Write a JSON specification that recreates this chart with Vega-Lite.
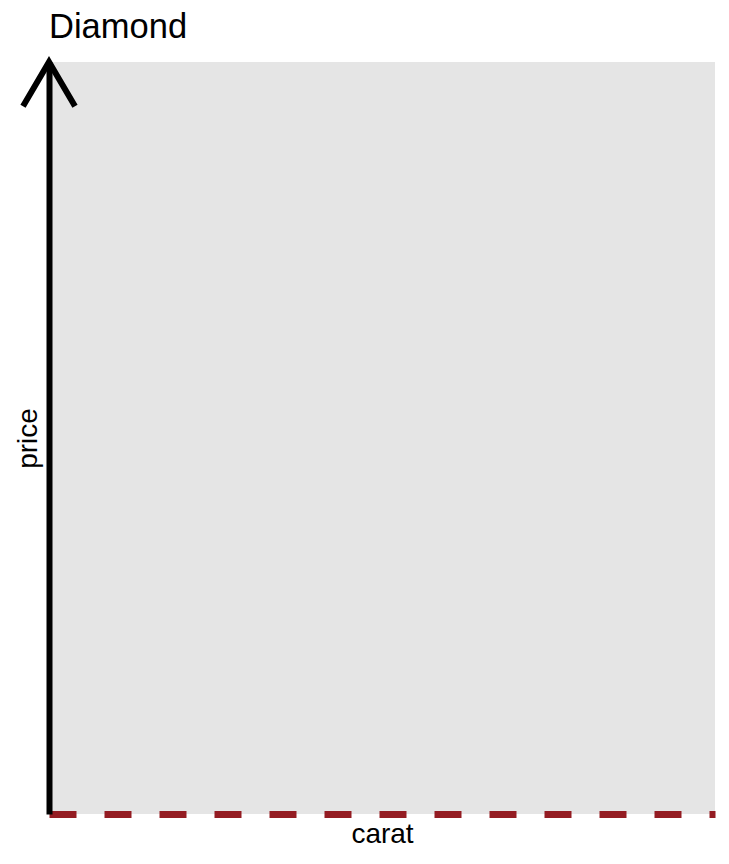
{
  "$schema": "https://vega.github.io/schema/vega-lite/v6.json",
  "width": 666,
  "height": 752,
  "autosize": {"type": "none"},
  "padding": {"left": 49, "top": 62, "right": 14, "bottom": 50},
  "background": "white",
  "config": {
    "view": {"fill": "#E5E5E5", "stroke": null},
    "font": "Liberation Sans"
  },
  "title": {
    "text": "Diamond",
    "anchor": "start",
    "frame": "group",
    "fontSize": 34.5,
    "fontWeight": "normal",
    "font": "Liberation Sans",
    "color": "black",
    "baseline": "alphabetic",
    "offset": -22
  },
  "data": {"values": [{"carat": 0.2, "price": 18823}]},
  "mark": {
    "type": "point",
    "shape": "M-1,1.7L0,0L1,1.7",
    "filled": false,
    "size": 2704,
    "stroke": "black",
    "strokeWidth": 6,
    "strokeJoin": "miter",
    "strokeCap": "butt",
    "opacity": 1,
    "clip": false
  },
  "encoding": {
    "x": {
      "field": "carat",
      "type": "quantitative",
      "scale": {"domain": [0.2, 5.01], "nice": false, "zero": false},
      "axis": {
        "title": "carat",
        "ticks": false,
        "labels": false,
        "grid": false,
        "domainColor": "#941C22",
        "domainWidth": 7,
        "domainDash": [27, 28],
        "domainCap": "butt",
        "titleFont": "Liberation Sans",
        "titleFontSize": 28,
        "titleFontWeight": "normal",
        "titleColor": "black",
        "titleBaseline": "alphabetic",
        "titlePadding": 28
      }
    },
    "y": {
      "field": "price",
      "type": "quantitative",
      "scale": {"domain": [326, 18823], "nice": false, "zero": false},
      "axis": {
        "title": "price",
        "ticks": false,
        "labels": false,
        "grid": false,
        "domainColor": "black",
        "domainWidth": 6,
        "domainCap": "butt",
        "titleFont": "Liberation Sans",
        "titleFontSize": 28,
        "titleFontWeight": "normal",
        "titleColor": "black",
        "titleBaseline": "alphabetic",
        "titlePadding": 13
      }
    }
  }
}
